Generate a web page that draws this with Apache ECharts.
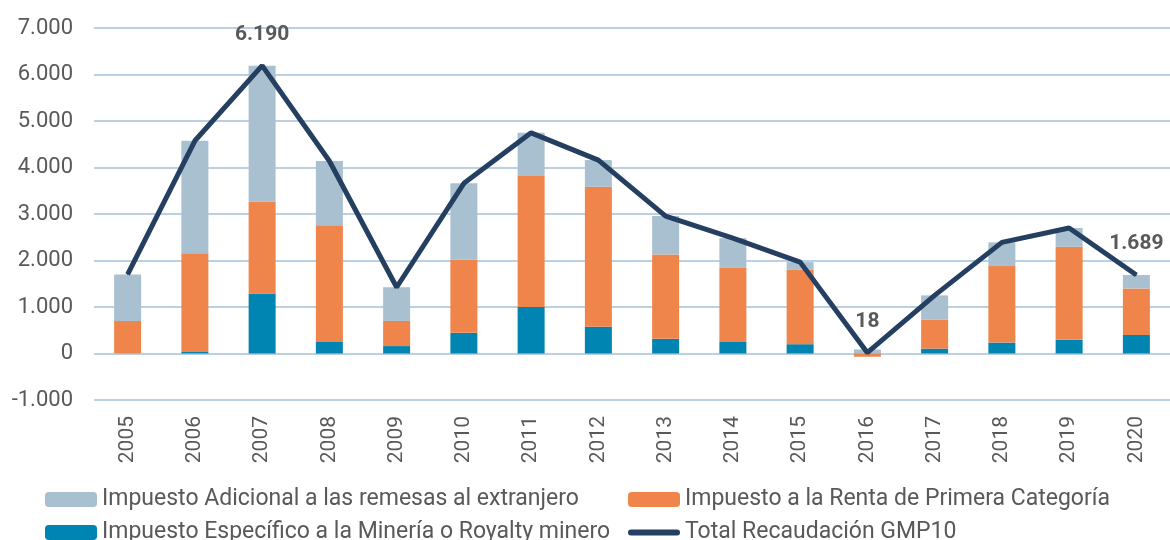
<!DOCTYPE html>
<html>
<head>
<meta charset="utf-8">
<script src="https://cdn.jsdelivr.net/npm/echarts@6/dist/echarts.min.js"></script>
<style>
  html, body { margin: 0; padding: 0; background: #fff; }
  #chart { width: 1170px; height: 540px; }
</style>
</head>
<body>
<div id="chart"></div>
<script>
// Recaudación GMP10 por tipo de impuesto (millones US$)
const years = ['2005','2006','2007','2008','2009','2010','2011','2012','2013','2014','2015','2016','2017','2018','2019','2020'];
const royalty   = [0, 45, 1290, 250, 160, 445, 1000, 575, 315, 250, 200, 5, 105, 235, 295, 400];
const renta     = [700, 2110, 1980, 2510, 540, 1570, 2815, 3010, 1815, 1590, 1605, -70, 620, 1645, 2000, 1000];
const adicional = [1000, 2420, 2920, 1380, 725, 1645, 930, 575, 825, 640, 160, 83, 525, 510, 405, 289];
const labelledYears = ['2007', '2016', '2020'];
const yTicks = { min: -1000, max: 7000, interval: 1000 };

const NAME_ADIC = 'Impuesto Adicional a las remesas al extranjero';
const NAME_RENTA = 'Impuesto a la Renta de Primera Categoría';
const NAME_ROY = 'Impuesto Específico a la Minería o Royalty minero';
const NAME_TOTAL = 'Total Recaudación GMP10';

const total = years.map((_, i) => royalty[i] + renta[i] + adicional[i]);

// thousands separator "."
const fmt = v => {
  const s = Math.abs(v).toString().replace(/\B(?=(\d{3})+(?!\d))/g, '.');
  return (v < 0 ? '-' : '') + s;
};

const FONT = 'Roboto';
const GREY = '#595959';
const C_ADIC = '#a9c0d1';
const C_RENTA = '#f0854b';
const C_ROY = '#0085b2';
const C_TOTAL = '#243f60';

const chart = echarts.init(document.getElementById('chart'), null, { renderer: 'canvas' });

const legendText = { color: GREY, fontFamily: FONT, fontSize: 23 };
const lineIcon = 'path://M3,0 L49,0 A3,3 0 0 1 49,6 L3,6 A3,3 0 0 1 3,0 Z';

function legendAt(left, top, name, icon) {
  const item = icon ? { name: name, icon: icon } : { name: name };
  return {
    left: left, top: top, padding: 0,
    itemWidth: 52, itemHeight: 15,
    textStyle: legendText,
    data: [item]
  };
}

chart.setOption({
  animation: false,
  textStyle: { fontFamily: FONT },
  grid: { left: 94, top: 28, width: 1077, height: 372, containLabel: false },
  legend: [
    legendAt(45, 488, NAME_ADIC),
    legendAt(628, 488, NAME_RENTA),
    legendAt(45, 521, NAME_ROY),
    legendAt(628, 521, NAME_TOTAL, lineIcon)
  ],
  xAxis: {
    type: 'category',
    data: years,
    axisLine: { show: false },
    axisTick: { show: false },
    axisLabel: { rotate: 90, margin: 16, color: GREY, fontSize: 21, fontFamily: FONT }
  },
  yAxis: {
    type: 'value',
    min: yTicks.min, max: yTicks.max, interval: yTicks.interval,
    axisLine: { show: false },
    axisTick: { show: false },
    axisLabel: { margin: 21, color: GREY, fontSize: 22, fontFamily: FONT, formatter: fmt },
    splitLine: { lineStyle: { color: '#bcd0e3', width: 2 } }
  },
  series: [
    {
      name: NAME_ROY,
      type: 'bar', stack: 'gmp', barWidth: 27,
      itemStyle: { color: C_ROY },
      data: royalty
    },
    {
      name: NAME_RENTA,
      type: 'bar', stack: 'gmp', barWidth: 27,
      itemStyle: { color: C_RENTA },
      data: renta
    },
    {
      name: NAME_ADIC,
      type: 'bar', stack: 'gmp', barWidth: 27,
      itemStyle: { color: C_ADIC },
      data: adicional
    },
    {
      name: NAME_TOTAL,
      type: 'line',
      symbol: 'circle', symbolSize: 1, showSymbol: true,
      lineStyle: { color: C_TOTAL, width: 5 },
      itemStyle: { color: C_TOTAL },
      z: 5,
      data: total.map((v, i) => ({
        value: v,
        label: {
          show: labelledYears.includes(years[i]),
          position: 'top', distance: 20,
          formatter: p => fmt(p.value),
          color: GREY, fontWeight: 'bold', fontSize: 21, fontFamily: FONT
        }
      }))
    }
  ]
});
</script>
</body>
</html>
